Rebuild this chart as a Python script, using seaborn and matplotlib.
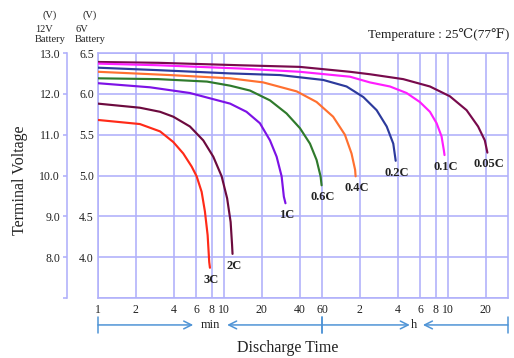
import pandas as pd
import seaborn as sns
import matplotlib.pyplot as plt
from matplotlib.ticker import NullLocator

# discharge curves: time in minutes, voltage on the 6V scale
rates = ['0.05C', '0.1C', '0.2C', '0.4C', '0.6C', '1C', '2C', '3C']
colors = ['#780a4c', '#ff1eff', '#2c3a9c', '#ff7030', '#2f7a2c', '#7d12e6', '#6c0a3e', '#ff2a18']

t_005 = [1, 3, 13.4, 40, 100, 144, 265, 432, 622, 844, 1042, 1178, 1235]
v_005 = [6.39, 6.38, 6.35, 6.33, 6.27, 6.24, 6.18, 6.09, 5.97, 5.80, 5.60, 5.43, 5.28]
t_01 = [1, 3, 13.4, 40, 100, 144, 208, 282, 359, 432, 488, 534, 557, 564]
v_01 = [6.37, 6.35, 6.31, 6.27, 6.21, 6.14, 6.09, 6.01, 5.90, 5.78, 5.64, 5.48, 5.31, 5.25]
t_02 = [1, 3, 11.2, 27.8, 61.4, 94.1, 128, 163, 196, 221, 231]
v_02 = [6.32, 6.29, 6.25, 6.23, 6.17, 6.09, 5.96, 5.80, 5.60, 5.39, 5.18]
t_04 = [1, 3.7, 11.2, 20.5, 37.8, 54.4, 73.6, 91.2, 103, 110, 111]
v_04 = [6.27, 6.23, 6.19, 6.14, 6.03, 5.90, 5.72, 5.50, 5.27, 5.07, 4.99]
t_06 = [1, 3, 7.33, 11.2, 16.1, 23.2, 31.4, 40.1, 48.2, 54.4, 58.5, 59.6]
v_06 = [6.19, 6.18, 6.15, 6.10, 6.04, 5.92, 5.76, 5.58, 5.39, 5.19, 4.99, 4.88]
t_1 = [1, 2.59, 5.37, 11.2, 15.1, 19.3, 23.2, 26.2, 28.7, 29.9, 30.8]
v_1 = [6.13, 6.08, 6.01, 5.88, 5.78, 5.64, 5.43, 5.23, 4.99, 4.74, 4.66]
t_2 = [1, 2.15, 3.11, 3.96, 5.37, 6.85, 8.23, 9.59, 10.6, 11.3, 11.6, 11.7]
v_2 = [5.88, 5.83, 5.78, 5.72, 5.60, 5.43, 5.23, 4.99, 4.72, 4.43, 4.15, 4.04]
t_3 = [1, 2.15, 3.11, 3.96, 4.75, 5.54, 6.07, 6.65, 7.06, 7.42, 7.64, 7.74]
v_3 = [5.68, 5.63, 5.54, 5.41, 5.27, 5.11, 4.99, 4.80, 4.56, 4.27, 3.94, 3.87]

times = [t_005, t_01, t_02, t_04, t_06, t_1, t_2, t_3]
volts = [v_005, v_01, v_02, v_04, v_06, v_1, v_2, v_3]

x_ticks = [1, 2, 4, 6, 8, 10, 20, 40, 60, 120, 240, 360, 480, 600, 1200]
x_labels = ['1', '2', '4', '6', '8', '10', '20', '40', '60', '2', '4', '6', '8', '10', '20']
y6_ticks = [3.5, 4.0, 4.5, 5.0, 5.5, 6.0, 6.5]
y6_labels = ['', '4.0', '4.5', '5.0', '5.5', '6.0', '6.5']
y12_ticks = [7, 8, 9, 10, 11, 12, 13]
y12_labels = ['', '8.0', '9.0', '10.0', '11.0', '12.0', '13.0']

rows = []
for r, ts, vs in zip(rates, times, volts):
    for t, v in zip(ts, vs):
        rows.append({'rate': r, 'time': t, 'volt': v})
df = pd.DataFrame(rows)

sns.set_theme(style='white')
plt.rcParams['font.family'] = ['Liberation Serif', 'DejaVu Serif', 'DejaVu Sans']

grid_c = '#b0b0fa'
text_c = '#222222'
arrow_c = '#4f94d6'

fig = plt.figure(figsize=(5.14, 3.58), dpi=100)
ax = fig.add_axes([98 / 514, 60 / 358, 410 / 514, 245 / 358])

sns.lineplot(data=df, x='time', y='volt', hue='rate', hue_order=rates,
             palette=dict(zip(rates, colors)), estimator=None, sort=False,
             lw=1.55, legend=False, ax=ax, zorder=3)

ax.set_xscale('log')
ax.set_xlim(1, 1800)
ax.set_ylim(3.5, 6.5)
ax.set_xticks(x_ticks)
ax.set_xticklabels(x_labels)
ax.xaxis.set_minor_locator(NullLocator())
ax.set_yticks(y6_ticks)
ax.set_yticklabels(y6_labels)
ax.set_xlabel('')
ax.set_ylabel('')
ax.grid(True, color=grid_c, lw=1.15)
ax.tick_params(length=0, labelsize=8.5, colors=text_c)
ax.tick_params(axis='x', pad=4)
ax.tick_params(axis='y', pad=3)
for s in ax.spines.values():
    s.set_color(grid_c)
    s.set_linewidth(1.15)

# 12V scale on a second spine further left (31 px = 22.3 pt)
ax2 = ax.twinx()
ax2.set_ylim(7, 13)
ax2.grid(False)
ax2.spines['left'].set_position(('outward', 22.3))
ax2.spines['left'].set_visible(True)
ax2.spines['left'].set_color(grid_c)
ax2.spines['left'].set_linewidth(1.15)
for s in ['right', 'top', 'bottom']:
    ax2.spines[s].set_visible(False)
ax2.yaxis.set_ticks_position('left')
ax2.yaxis.set_label_position('left')
ax2.set_yticks(y12_ticks)
ax2.set_yticklabels(y12_labels)
ax2.tick_params(axis='y', length=3, width=1.15, color=grid_c, labelsize=8.5,
                labelcolor=text_c, pad=2)

# rate labels under curve ends
for r, ts, vs in zip(rates, times, volts):
    ax.annotate(r, (ts[-1], vs[-1]), xytext=(1, -8.5), textcoords='offset points',
                ha='center', va='center', fontsize=9, fontweight='bold', color=text_c)

# min / h arrows
def arrow(x0, x1):
    ax.annotate('', xy=(x1, -0.11), xytext=(x0, -0.11),
                xycoords=('data', 'axes fraction'), textcoords=('data', 'axes fraction'),
                arrowprops=dict(arrowstyle=']->, widthA=0.4, lengthA=0',
                                mutation_scale=14, color=arrow_c, lw=1.1,
                                shrinkA=0, shrinkB=0),
                annotation_clip=False)

arrow(1, 5.7)
arrow(60, 10.6)
arrow(60, 299)
arrow(1800, 380)
ax.text(7.8, -0.11, 'min', transform=ax.get_xaxis_transform(), ha='center', va='center',
        fontsize=9, color=text_c)
ax.text(322, -0.11, 'h', transform=ax.get_xaxis_transform(), ha='center', va='center',
        fontsize=9, color=text_c)

fig.text(288 / 514, 10 / 358, 'Discharge Time', ha='center', va='center', fontsize=11.5, color=text_c)
fig.text(20 / 514, 178 / 358, 'Terminal Voltage', ha='center', va='center', rotation=90,
         fontsize=11.5, color=text_c)
fig.text(509 / 514, 323 / 358, 'Temperature : 25℃(77℉)', ha='right', va='center',
         fontsize=9.5, color=text_c)

# battery headers
fig.text(50 / 514, 343 / 358, '(V)', ha='center', va='center', fontsize=7.5, color=text_c)
fig.text(35 / 514, 329 / 358, '12V', ha='left', va='center', fontsize=7.5, color=text_c)
fig.text(35 / 514, 318 / 358, 'Battery', ha='left', va='center', fontsize=7.5, color=text_c)
fig.text(90 / 514, 343 / 358, '(V)', ha='center', va='center', fontsize=7.5, color=text_c)
fig.text(75 / 514, 329 / 358, '6V', ha='left', va='center', fontsize=7.5, color=text_c)
fig.text(75 / 514, 318 / 358, 'Battery', ha='left', va='center', fontsize=7.5, color=text_c)

plt.savefig('out.png', dpi=100, facecolor='w')
